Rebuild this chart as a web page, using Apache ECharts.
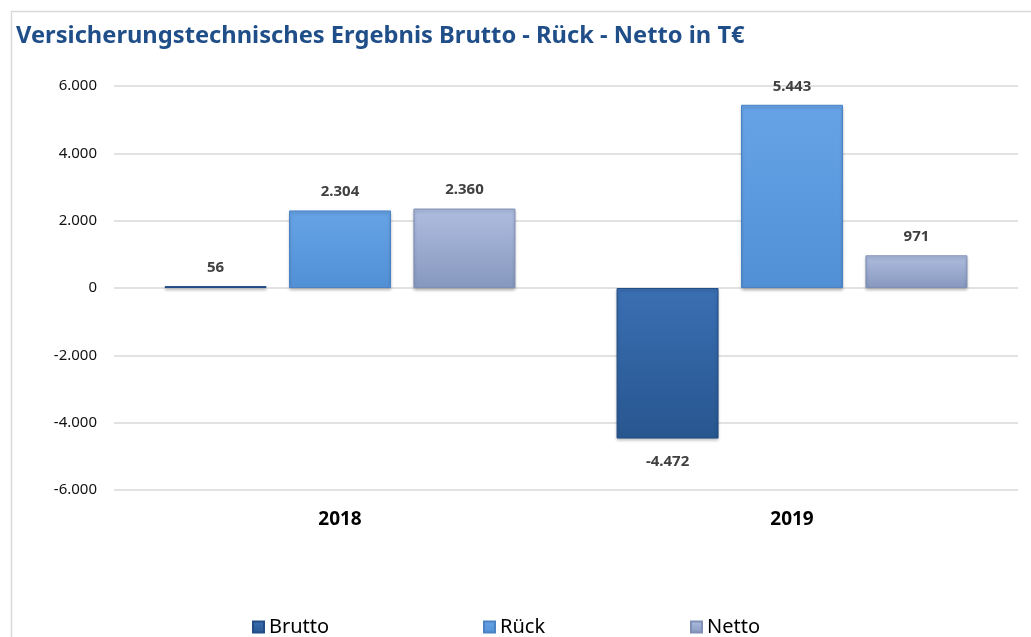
<!DOCTYPE html>
<html><head><meta charset="utf-8">
<script src="https://cdn.jsdelivr.net/npm/echarts@6/dist/echarts.min.js"></script>
<style>html,body{margin:0;padding:0;background:#fff}#c{width:1031px;height:637px}</style>
</head><body><div id="c"></div>
<script>
const categories = ['2018', '2019'];
const brutto = [56, -4472];
const rueck = [2304, 5443];
const netto = [2360, 971];
const yTicks = [-6000, -4000, -2000, 0, 2000, 4000, 6000];

function fmt(v) {
  const s = Math.abs(v).toString().replace(/\B(?=(\d{3})+(?!\d))/g, '.');
  return (v < 0 ? '-' : '') + s;
}
function grad(top, bottom) {
  return new echarts.graphic.LinearGradient(0, 0, 0, 1, [{offset: 0, color: top}, {offset: 1, color: bottom}]);
}
const chart = echarts.init(document.getElementById('c'));
const labelStyle = {show: true, formatter: p => fmt(p.value), fontFamily: 'Noto Sans', fontWeight: 'bold', fontSize: 15, color: '#404040', distance: 11};
function series(name, data, top, bottom, border) {
  return {
    name, type: 'bar', data, barWidth: 102, barGap: '22%',
    itemStyle: {color: grad(top, bottom), borderColor: border, borderWidth: 1, shadowColor: 'rgba(0,0,0,0.25)', shadowBlur: 3, shadowOffsetY: 2},
    label: Object.assign({position: 'top'}, labelStyle)
  };
}
const sBrutto = series('Brutto', brutto.map(v => ({value: v, label: v < 0 ? {position: 'bottom', distance: 16} : {position: 'top'}})), '#3a6fb3', '#28568f', '#234d85');
const legendBase = {top: 612, itemWidth: 11, itemHeight: 11, icon: 'rect', textStyle: {fontFamily: 'Noto Sans', fontSize: 20, color: '#000'}, itemGap: 6};
chart.setOption({
  animation: false,
  title: {text: 'Versicherungstechnisches Ergebnis Brutto - Rück - Netto in T€', left: 11, top: 19,
    textStyle: {fontFamily: 'Noto Sans', fontWeight: 'bold', fontSize: 23.7, color: '#1f4e89'}},
  graphic: [
    {type: 'line', shape: {x1: 11.5, y1: 11, x2: 11.5, y2: 637}, style: {stroke: '#d9d9d9', lineWidth: 1.5}},
    {type: 'line', shape: {x1: 11, y1: 11.5, x2: 1031, y2: 11.5}, style: {stroke: '#d9d9d9', lineWidth: 1.5}}
  ],
  legend: [
    Object.assign({left: 247, data: ['Brutto']}, legendBase),
    Object.assign({left: 478, data: ['Rück']}, legendBase),
    Object.assign({left: 685, data: ['Netto']}, legendBase)
  ],
  grid: {left: 114, right: 13, top: 86, bottom: 147},
  xAxis: {type: 'category', data: categories, axisLine: {show: false}, axisTick: {show: false},
    axisLabel: {fontFamily: 'Noto Sans', fontWeight: 'bold', fontSize: 19, color: '#000', margin: 20}},
  yAxis: {type: 'value', min: yTicks[0], max: yTicks[yTicks.length - 1], interval: 2000,
    axisLabel: {formatter: v => fmt(v), fontFamily: 'Noto Sans', fontSize: 15, color: '#111', margin: 17},
    splitLine: {lineStyle: {color: '#d9d9d9', width: 1.5}}, axisLine: {show: false}, axisTick: {show: false}},
  series: [
    sBrutto,
    series('Rück', rueck, '#66a3e6', '#5290d6', '#4a82c4'),
    series('Netto', netto, '#aebddf', '#8798bf', '#7f8fb5')
  ]
});
</script></body></html>
